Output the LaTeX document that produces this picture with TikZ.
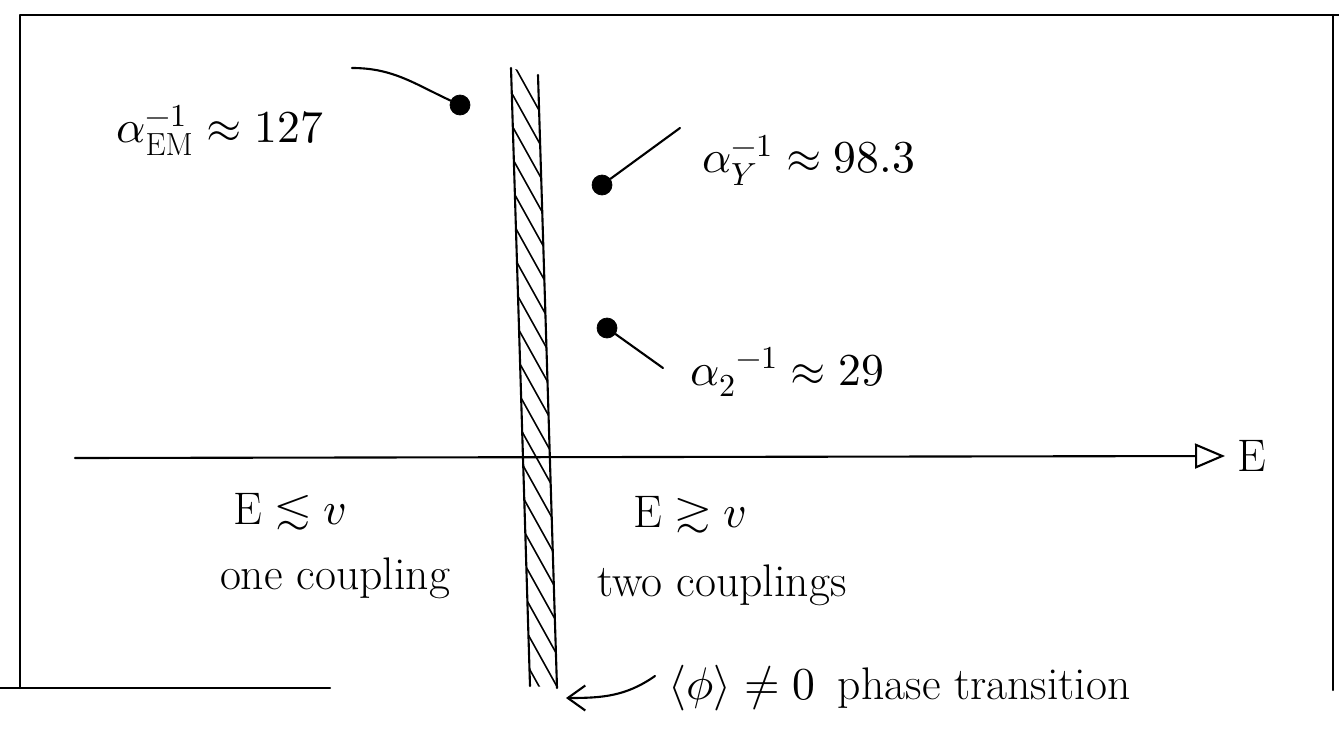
\documentclass[tikz,border=0pt]{standalone}
\usepackage{fontspec}
\usepackage{unicode-math}
\setmathfont{Latin Modern Math}
\usetikzlibrary{arrows.meta}
\begin{document}
\begin{tikzpicture}[x=0.02cm,y=-0.02cm]
\tikzset{
  pen/.style={line width=1.2pt, line cap=round, line join=round},
  thinpen/.style={line width=0.9pt, line cap=round},
  dotmark/.style={circle, fill=black, draw=black, inner sep=0pt, minimum size=0.4cm},
  lbl/.style={font=\fontsize{26}{30}\selectfont, inner sep=0pt},
}
\useasboundingbox (0,0) rectangle (1339,730);
% frame
\draw[pen] (1339,15) -- (20,15) -- (20,688);
\draw[pen] (1333,15) -- (1333,690);
\draw[pen] (0,688) -- (330,688);
% hatched bar
\coordinate (bTL) at (511,68);
\coordinate (bBL) at (530,686);
\coordinate (bTR) at (538,75);
\coordinate (bBR) at (557,688);
\begin{scope}
  \clip (bTL) -- (bTR) -- (bBR) -- (bBL) -- cycle;
  \foreach \y in {40,72,...,720} {
    \draw[thinpen] (500,\y) -- (570,\y+126);
  }
\end{scope}
\draw[pen] (bTL) -- (bBL);
\draw[pen] (bTR) -- (bBR);
% axis
\coordinate (ax0) at (75,458);
\coordinate (ax1) at (1225,456);
\draw[pen, -{Triangle[open, length=0.6cm, width=0.5cm]}] (ax0) -- (ax1);
\node[lbl] (E) at (1252,456) {$\mathrm{E}$};
% couplings
\node[dotmark] (dEM) at (460,105) {};
\coordinate (tEM) at (352,68);
\draw[pen] (tEM) to[out=0, in=155] (dEM);
\node[lbl] (lEM) at (220,130) {$\alpha_{\mathrm{EM}}^{-1}\approx 127$};
\node[dotmark] (dY) at (602,185) {};
\coordinate (tY) at (680,128);
\draw[pen] (dY) -- (tY);
\node[lbl, anchor=west] (lY) at (702,160) {$\alpha_{Y}^{-1}\approx 98.3$};
\node[dotmark] (d2) at (607,328) {};
\coordinate (t2) at (663,368);
\draw[pen] (d2) -- (t2);
\node[lbl, anchor=west] (l2) at (690,372) {${\alpha_{2}}^{-1}\approx 29$};
% regions
\node[lbl] (lowE) at (290,512) {$\mathrm{E}\lesssim v$};
\node[lbl] (one) at (335,578) {one coupling};
\node[lbl] (highE) at (690,515) {$\mathrm{E}\gtrsim v$};
\node[lbl] (two) at (722,585) {two couplings};
% phase transition
\node[lbl, anchor=west] (pt) at (668,688) {$\langle\phi\rangle\neq 0$\enspace phase transition};
\coordinate (aS) at (655,676);
\coordinate (aE) at (566,698);
\draw[pen, -{Straight Barb[length=0.35cm, width=0.5cm]}] (aS) to[out=215, in=0] (aE);
\end{tikzpicture}
\end{document}
